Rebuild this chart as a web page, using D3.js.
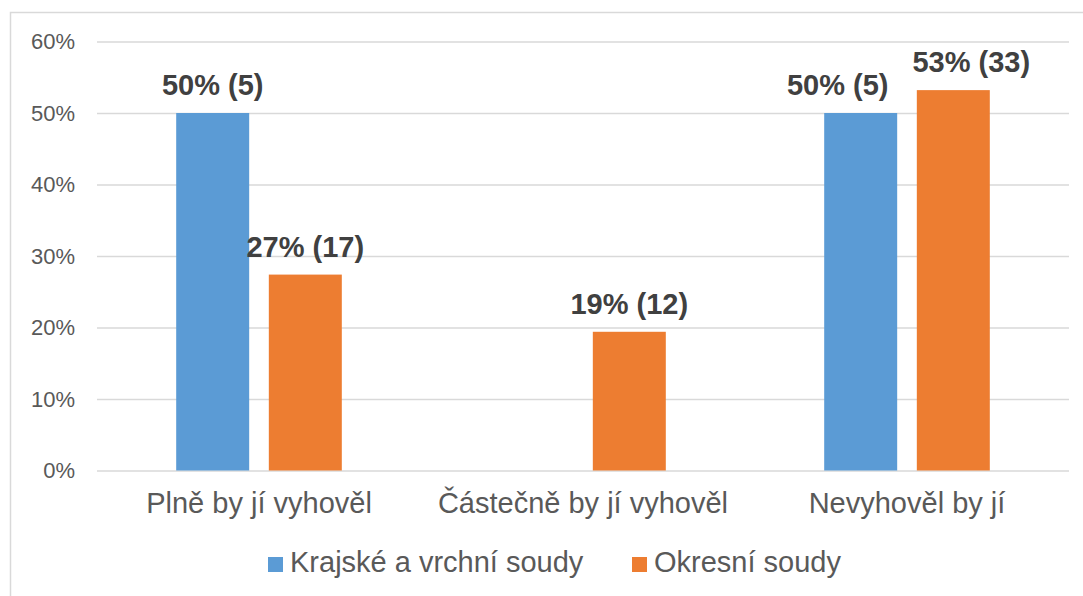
<!DOCTYPE html>
<html>
<head>
<meta charset="utf-8">
<script src="https://cdn.jsdelivr.net/npm/d3@7"></script>
<style>
  body { margin: 0; background: #fff; }
  text { font-family: "Liberation Sans", Arial, sans-serif; }
</style>
</head>
<body>
<svg id="chart" width="1083" height="596"></svg>
<script>
// data
var categories = ['Plně by jí vyhověl', 'Částečně by jí vyhověl', 'Nevyhověl by jí'];
var seriesNames = ['Krajské a vrchní soudy', 'Okresní soudy'];
var krajskeValues = [50, 0, 50];       // percent
var okresniValues = [27.4, 19.4, 53.2]; // percent
var krajskeCounts = [5, 0, 5];
var okresniCounts = [17, 12, 33];
var yTicks = [0, 10, 20, 30, 40, 50, 60];
var colors = ['#5b9bd5', '#ed7d31'];

// labels in the last group are nudged apart so they don't collide
var labelShift = [[0, 0, -23], [0, 0, 18]];

var series = [
  { name: seriesNames[0], values: krajskeValues, counts: krajskeCounts, color: colors[0] },
  { name: seriesNames[1], values: okresniValues, counts: okresniCounts, color: colors[1] }
];

var plot = { left: 97, right: 1069, top: 41.5, bottom: 470.5 };

var svg = d3.select('#chart');

// outer frame (only top and left edges are on the picture)
svg.append('rect')
  .attr('x', 10.5).attr('y', 12.5)
  .attr('width', 1100).attr('height', 700)
  .attr('fill', 'none')
  .attr('stroke', '#d9d9d9')
  .attr('stroke-width', 1.5);

var x = d3.scaleBand()
  .domain(categories)
  .range([plot.left, plot.right])
  .padding(0);

var xs = d3.scaleBand()
  .domain(seriesNames)
  .range([0, x.bandwidth()])
  .paddingInner(0.212)
  .paddingOuter(0.855);

var y = d3.scaleLinear()
  .domain([0, 60])
  .range([plot.bottom, plot.top]);

// gridlines + y labels
var yAxis = d3.axisLeft(y)
  .tickValues(yTicks)
  .tickSize(-(plot.right - plot.left))
  .tickPadding(22)
  .tickFormat(function(d){ return d + '%'; });

var gy = svg.append('g')
  .attr('transform', 'translate(' + plot.left + ',0)')
  .call(yAxis);
gy.select('.domain').remove();
gy.selectAll('.tick line')
  .attr('stroke', '#d9d9d9')
  .attr('stroke-width', 1.5);
gy.selectAll('.tick text')
  .attr('fill', '#595959')
  .attr('font-size', '22px')
  .attr('font-family', '"Liberation Sans", Arial, sans-serif');

// bars
series.forEach(function(s, si){
  var rows = categories.map(function(c, i){
    return { cat: c, i: i, v: s.values[i], n: s.counts[i] };
  }).filter(function(d){ return d.v > 0; });

  var g = svg.append('g');
  g.selectAll('rect')
    .data(rows)
    .enter()
    .append('rect')
    .attr('x', function(d){ return x(d.cat) + xs(s.name); })
    .attr('y', function(d){ return y(d.v); })
    .attr('width', xs.bandwidth())
    .attr('height', function(d){ return y(0) - y(d.v); })
    .attr('fill', s.color);

  g.selectAll('text')
    .data(rows)
    .enter()
    .append('text')
    .attr('x', function(d){ return x(d.cat) + xs(s.name) + xs.bandwidth() / 2 + labelShift[si][d.i]; })
    .attr('y', function(d){ return y(d.v) - 18; })
    .attr('text-anchor', 'middle')
    .attr('font-size', '29px')
    .attr('font-weight', 'bold')
    .attr('fill', '#404040')
    .text(function(d){ return Math.round(d.v) + '% (' + d.n + ')'; });
});

// x axis labels
var xAxis = d3.axisBottom(x).tickSize(0).tickPadding(22);
var gx = svg.append('g')
  .attr('transform', 'translate(0,' + plot.bottom + ')')
  .call(xAxis);
gx.select('.domain').remove();
gx.selectAll('.tick text')
  .attr('fill', '#595959')
  .attr('font-size', '29px')
  .attr('font-family', '"Liberation Sans", Arial, sans-serif');

// legend
var legendX = [268, 632];
var legend = svg.append('g');
series.forEach(function(s, i){
  legend.append('rect')
    .attr('x', legendX[i]).attr('y', 557)
    .attr('width', 15).attr('height', 15)
    .attr('fill', s.color);
  legend.append('text')
    .attr('x', legendX[i] + 22).attr('y', 572)
    .attr('font-size', '29px')
    .attr('fill', '#595959')
    .text(s.name);
});
</script>
</body>
</html>
